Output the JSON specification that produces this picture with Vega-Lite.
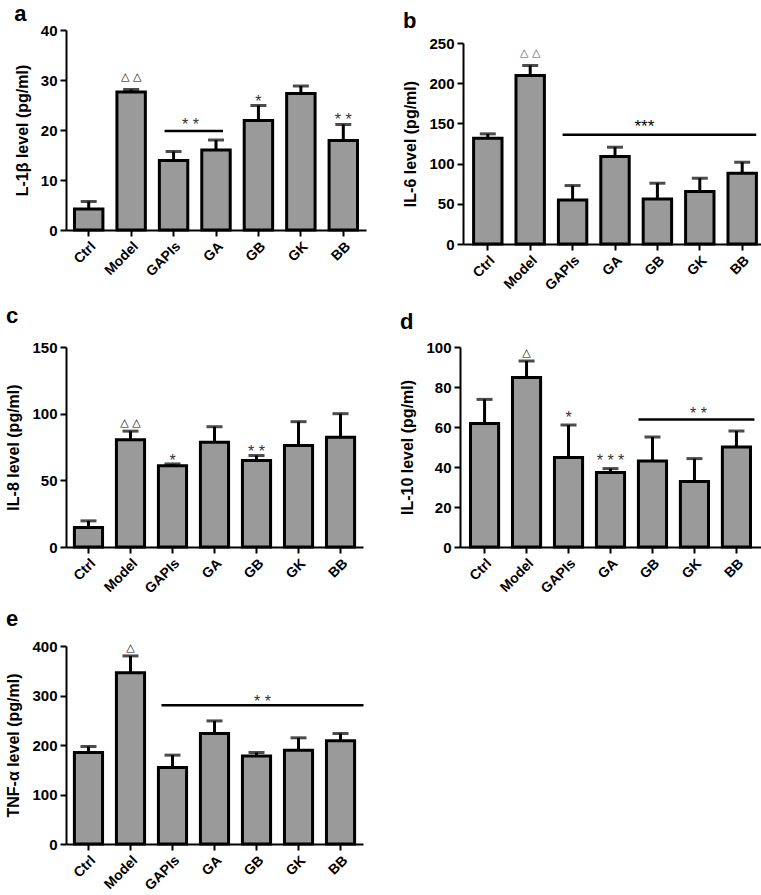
{
  "$schema": "https://vega.github.io/schema/vega-lite/v6.json",
  "background": "white",
  "padding": {"left": 5, "top": 3, "right": 0, "bottom": 0},
  "spacing": 12,
  "config": {
    "view": {"stroke": null},
    "font": "Liberation Sans",
    "axis": {"domainColor": "black", "domainWidth": 2, "tickColor": "black", "tickWidth": 2, "tickSize": 6, "labelColor": "black", "labelFont": "Liberation Sans", "labelFontWeight": "bold", "labelFontSize": 15, "labelPadding": 3, "titleColor": "black", "titleFont": "Liberation Sans", "titleFontWeight": "bold", "titleFontSize": 16, "grid": false},
    "axisX": {"labelAngle": -45, "labelFontSize": 14, "tickSize": 6},
    "axisY": {"titlePadding": 10},
    "title": {"anchor": "start", "font": "Liberation Sans", "fontWeight": "bold", "fontSize": 22, "color": "black", "frame": "bounds"}
  },
  "datasets": {
    "bars": [
      {"panel": "a", "group": "Ctrl", "value": 4.2, "upper": 5.7},
      {"panel": "a", "group": "Model", "value": 27.6, "upper": 28.1},
      {"panel": "a", "group": "GAPIs", "value": 13.9, "upper": 15.7},
      {"panel": "a", "group": "GA", "value": 16.0, "upper": 18.0},
      {"panel": "a", "group": "GB", "value": 21.9, "upper": 24.9},
      {"panel": "a", "group": "GK", "value": 27.3, "upper": 28.8},
      {"panel": "a", "group": "BB", "value": 17.9, "upper": 21.1},
      {"panel": "b", "group": "Ctrl", "value": 131.6, "upper": 137},
      {"panel": "b", "group": "Model", "value": 209.7, "upper": 222},
      {"panel": "b", "group": "GAPIs", "value": 54.8, "upper": 72.7},
      {"panel": "b", "group": "GA", "value": 108.8, "upper": 120.4},
      {"panel": "b", "group": "GB", "value": 56, "upper": 75.6},
      {"panel": "b", "group": "GK", "value": 65.2, "upper": 81.8},
      {"panel": "b", "group": "BB", "value": 88, "upper": 101.7},
      {"panel": "c", "group": "Ctrl", "value": 14.6, "upper": 19.6},
      {"panel": "c", "group": "Model", "value": 80.4, "upper": 86.9},
      {"panel": "c", "group": "GAPIs", "value": 61, "upper": 62.3},
      {"panel": "c", "group": "GA", "value": 78.6, "upper": 90.2},
      {"panel": "c", "group": "GB", "value": 64.8, "upper": 68.6},
      {"panel": "c", "group": "GK", "value": 76.1, "upper": 94},
      {"panel": "c", "group": "BB", "value": 82.4, "upper": 100},
      {"panel": "d", "group": "Ctrl", "value": 61.8, "upper": 73.8},
      {"panel": "d", "group": "Model", "value": 84.7, "upper": 93},
      {"panel": "d", "group": "GAPIs", "value": 44.7, "upper": 61},
      {"panel": "d", "group": "GA", "value": 37.2, "upper": 39.2},
      {"panel": "d", "group": "GB", "value": 43, "upper": 55},
      {"panel": "d", "group": "GK", "value": 32.8, "upper": 44.2},
      {"panel": "d", "group": "BB", "value": 50, "upper": 58},
      {"panel": "e", "group": "Ctrl", "value": 184.9, "upper": 197},
      {"panel": "e", "group": "Model", "value": 346, "upper": 380},
      {"panel": "e", "group": "GAPIs", "value": 154.6, "upper": 179.5},
      {"panel": "e", "group": "GA", "value": 223, "upper": 248.7},
      {"panel": "e", "group": "GB", "value": 178, "upper": 184.9},
      {"panel": "e", "group": "GK", "value": 189.6, "upper": 214.5},
      {"panel": "e", "group": "BB", "value": 208.4, "upper": 223.2}
    ],
    "ann": [
      {"panel": "a", "group": "Model", "value": 30.6, "label": "△ △", "kind": "tri"},
      {"panel": "a", "group": "GB", "value": 26.5, "label": "*", "kind": "star"},
      {"panel": "a", "group": "BB", "value": 22.9, "label": "* *", "kind": "star"},
      {"panel": "a", "group": "GAPIs", "value": 21.8, "label": "* *", "kind": "mid"},
      {"panel": "b", "group": "Model", "value": 237.5, "label": "△ △", "kind": "tri"},
      {"panel": "b", "group": "GB", "value": 151, "label": "***", "kind": "mid"},
      {"panel": "c", "group": "Model", "value": 93, "label": "△ △", "kind": "tri"},
      {"panel": "c", "group": "GAPIs", "value": 67.8, "label": "*", "kind": "star"},
      {"panel": "c", "group": "GB", "value": 74.6, "label": "* *", "kind": "star"},
      {"panel": "d", "group": "Model", "value": 97, "label": "△", "kind": "tri"},
      {"panel": "d", "group": "GAPIs", "value": 66.3, "label": "*", "kind": "star"},
      {"panel": "d", "group": "GA", "value": 45.2, "label": "* * *", "kind": "star"},
      {"panel": "d", "group": "GK", "value": 68.5, "label": "* *", "kind": "mid"},
      {"panel": "e", "group": "Model", "value": 396.6, "label": "△", "kind": "tri"},
      {"panel": "e", "group": "GB", "value": 295.8, "label": "* *", "kind": "mid"}
    ],
    "lines": [
      {"panel": "a", "group": "GAPIs", "group2": "GA", "value": 19.8},
      {"panel": "b", "group": "GAPIs", "group2": "BB", "value": 135.8},
      {"panel": "d", "group": "GB", "group2": "BB", "value": 63.8},
      {"panel": "e", "group": "GAPIs", "group2": "BB", "value": 280.3}
    ]
  },
  "vconcat": [
    {
      "spacing": 36,
      "hconcat": [
        {
          "title": {"text": "a", "offset": -3},
          "width": 300, "height": 200,
          "encoding": {
            "x": {"field": "group", "type": "nominal", "title": null, "scale": {"domain": ["Ctrl", "Model", "GAPIs", "GA", "GB", "GK", "BB"], "paddingInner": 0.33, "paddingOuter": 0.2}},
            "y": {"field": "value", "type": "quantitative", "title": "L-1β  level (pg/ml)", "scale": {"domain": [0, 40]}, "axis": {"values": [0, 10, 20, 30, 40]}}
          },
          "layer": [
            {"data": {"name": "bars"}, "transform": [{"filter": "datum.panel === 'a'"}], "mark": {"type": "bar", "fill": "#9a9a9a", "stroke": "black", "strokeWidth": 3}},
            {"data": {"name": "bars"}, "transform": [{"filter": "datum.panel === 'a'"}], "mark": {"type": "rule", "color": "black", "strokeWidth": 3}, "encoding": {"y2": {"field": "upper"}}},
            {"data": {"name": "bars"}, "transform": [{"filter": "datum.panel === 'a'"}], "mark": {"type": "tick", "color": "black", "thickness": 3, "size": 16}, "encoding": {"y": {"field": "upper", "type": "quantitative", "title": "L-1β  level (pg/ml)"}}},
            {"data": {"name": "ann"}, "transform": [{"filter": "datum.panel === 'a' && datum.kind === 'tri'"}], "mark": {"type": "text", "font": "DejaVu Sans", "fontSize": 11, "color": "black", "baseline": "middle"}, "encoding": {"text": {"field": "label"}}},
            {"data": {"name": "ann"}, "transform": [{"filter": "datum.panel === 'a' && datum.kind === 'star'"}], "mark": {"type": "text", "fontSize": 16, "color": "#333", "baseline": "middle", "dy": 4}, "encoding": {"text": {"field": "label"}}},
            {"data": {"name": "ann"}, "transform": [{"filter": "datum.panel === 'a' && datum.kind === 'mid'"}], "mark": {"type": "text", "fontSize": 16, "color": "#333", "baseline": "middle", "dy": 4, "dx": 17}, "encoding": {"text": {"field": "label"}}},
            {"data": {"name": "lines"}, "transform": [{"filter": "datum.panel === 'a'"}], "mark": {"type": "rule", "color": "black", "strokeWidth": 2.5, "xOffset": -9, "x2Offset": 7}, "encoding": {"x2": {"field": "group2"}}}
          ]
        },
        {
          "title": {"text": "b", "offset": -3},
          "width": 304, "height": 214,
          "encoding": {
            "x": {"field": "group", "type": "nominal", "title": null, "scale": {"domain": ["Ctrl", "Model", "GAPIs", "GA", "GB", "GK", "BB"], "paddingInner": 0.33, "paddingOuter": 0.25}},
            "y": {"field": "value", "type": "quantitative", "title": "IL-6 level (pg/ml)", "scale": {"domain": [0, 250], "range": [214, 13]}, "axis": {"values": [0, 50, 100, 150, 200, 250]}}
          },
          "layer": [
            {"data": {"name": "bars"}, "transform": [{"filter": "datum.panel === 'b'"}], "mark": {"type": "bar", "fill": "#9a9a9a", "stroke": "black", "strokeWidth": 3}},
            {"data": {"name": "bars"}, "transform": [{"filter": "datum.panel === 'b'"}], "mark": {"type": "rule", "color": "black", "strokeWidth": 3}, "encoding": {"y2": {"field": "upper"}}},
            {"data": {"name": "bars"}, "transform": [{"filter": "datum.panel === 'b'"}], "mark": {"type": "tick", "color": "black", "thickness": 3, "size": 16}, "encoding": {"y": {"field": "upper", "type": "quantitative", "title": "IL-6 level (pg/ml)"}}},
            {"data": {"name": "ann"}, "transform": [{"filter": "datum.panel === 'b' && datum.kind === 'tri'"}], "mark": {"type": "text", "font": "DejaVu Sans", "fontSize": 11, "color": "#555", "baseline": "middle"}, "encoding": {"text": {"field": "label"}}},
            {"data": {"name": "ann"}, "transform": [{"filter": "datum.panel === 'b' && datum.kind === 'mid'"}], "mark": {"type": "text", "fontSize": 17, "color": "black", "baseline": "middle", "dy": 4, "dx": -13}, "encoding": {"text": {"field": "label"}}},
            {"data": {"name": "lines"}, "transform": [{"filter": "datum.panel === 'b'"}], "mark": {"type": "rule", "color": "black", "strokeWidth": 2.5, "xOffset": -10, "x2Offset": 14}, "encoding": {"x2": {"field": "group2"}}}
          ]
        }
      ]
    },
    {
      "spacing": 36,
      "hconcat": [
        {
          "title": {"text": "c", "offset": 12},
          "width": 297, "height": 200,
          "encoding": {
            "x": {"field": "group", "type": "nominal", "title": null, "scale": {"domain": ["Ctrl", "Model", "GAPIs", "GA", "GB", "GK", "BB"], "paddingInner": 0.33, "paddingOuter": 0.2}},
            "y": {"field": "value", "type": "quantitative", "title": "IL-8 level (pg/ml)", "scale": {"domain": [0, 150]}, "axis": {"values": [0, 50, 100, 150]}}
          },
          "layer": [
            {"data": {"name": "bars"}, "transform": [{"filter": "datum.panel === 'c'"}], "mark": {"type": "bar", "fill": "#9a9a9a", "stroke": "black", "strokeWidth": 3}},
            {"data": {"name": "bars"}, "transform": [{"filter": "datum.panel === 'c'"}], "mark": {"type": "rule", "color": "black", "strokeWidth": 3}, "encoding": {"y2": {"field": "upper"}}},
            {"data": {"name": "bars"}, "transform": [{"filter": "datum.panel === 'c'"}], "mark": {"type": "tick", "color": "black", "thickness": 3, "size": 16}, "encoding": {"y": {"field": "upper", "type": "quantitative", "title": "IL-8 level (pg/ml)"}}},
            {"data": {"name": "ann"}, "transform": [{"filter": "datum.panel === 'c' && datum.kind === 'tri'"}], "mark": {"type": "text", "font": "DejaVu Sans", "fontSize": 11, "color": "black", "baseline": "middle"}, "encoding": {"text": {"field": "label"}}},
            {"data": {"name": "ann"}, "transform": [{"filter": "datum.panel === 'c' && datum.kind === 'star'"}], "mark": {"type": "text", "fontSize": 16, "color": "#333", "baseline": "middle", "dy": 4}, "encoding": {"text": {"field": "label"}}}
          ]
        },
        {
          "title": {"text": "d", "offset": 6},
          "width": 301, "height": 200,
          "encoding": {
            "x": {"field": "group", "type": "nominal", "title": null, "scale": {"domain": ["Ctrl", "Model", "GAPIs", "GA", "GB", "GK", "BB"], "paddingInner": 0.33, "paddingOuter": 0.25}},
            "y": {"field": "value", "type": "quantitative", "title": "IL-10 level (pg/ml)", "scale": {"domain": [0, 100]}, "axis": {"values": [0, 20, 40, 60, 80, 100]}}
          },
          "layer": [
            {"data": {"name": "bars"}, "transform": [{"filter": "datum.panel === 'd'"}], "mark": {"type": "bar", "fill": "#9a9a9a", "stroke": "black", "strokeWidth": 3}},
            {"data": {"name": "bars"}, "transform": [{"filter": "datum.panel === 'd'"}], "mark": {"type": "rule", "color": "black", "strokeWidth": 3}, "encoding": {"y2": {"field": "upper"}}},
            {"data": {"name": "bars"}, "transform": [{"filter": "datum.panel === 'd'"}], "mark": {"type": "tick", "color": "black", "thickness": 3, "size": 16}, "encoding": {"y": {"field": "upper", "type": "quantitative", "title": "IL-10 level (pg/ml)"}}},
            {"data": {"name": "ann"}, "transform": [{"filter": "datum.panel === 'd' && datum.kind === 'tri'"}], "mark": {"type": "text", "font": "DejaVu Sans", "fontSize": 11, "color": "black", "baseline": "middle"}, "encoding": {"text": {"field": "label"}}},
            {"data": {"name": "ann"}, "transform": [{"filter": "datum.panel === 'd' && datum.kind === 'star'"}], "mark": {"type": "text", "fontSize": 16, "color": "#333", "baseline": "middle", "dy": 4}, "encoding": {"text": {"field": "label"}}},
            {"data": {"name": "ann"}, "transform": [{"filter": "datum.panel === 'd' && datum.kind === 'mid'"}], "mark": {"type": "text", "fontSize": 16, "color": "#333", "baseline": "middle", "dy": 4, "dx": 4}, "encoding": {"text": {"field": "label"}}},
            {"data": {"name": "lines"}, "transform": [{"filter": "datum.panel === 'd'"}], "mark": {"type": "rule", "color": "black", "strokeWidth": 2.5, "xOffset": -14, "x2Offset": 18}, "encoding": {"x2": {"field": "group2"}}}
          ]
        }
      ]
    },
    {
      "title": {"text": "e", "offset": 8},
      "width": 297, "height": 198,
      "encoding": {
        "x": {"field": "group", "type": "nominal", "title": null, "scale": {"domain": ["Ctrl", "Model", "GAPIs", "GA", "GB", "GK", "BB"], "paddingInner": 0.33, "paddingOuter": 0.2}},
        "y": {"field": "value", "type": "quantitative", "title": "TNF-α level (pg/ml)", "scale": {"domain": [0, 400]}, "axis": {"values": [0, 100, 200, 300, 400]}}
      },
      "layer": [
        {"data": {"name": "bars"}, "transform": [{"filter": "datum.panel === 'e'"}], "mark": {"type": "bar", "fill": "#9a9a9a", "stroke": "black", "strokeWidth": 3}},
        {"data": {"name": "bars"}, "transform": [{"filter": "datum.panel === 'e'"}], "mark": {"type": "rule", "color": "black", "strokeWidth": 3}, "encoding": {"y2": {"field": "upper"}}},
        {"data": {"name": "bars"}, "transform": [{"filter": "datum.panel === 'e'"}], "mark": {"type": "tick", "color": "black", "thickness": 3, "size": 16}, "encoding": {"y": {"field": "upper", "type": "quantitative", "title": "TNF-α level (pg/ml)"}}},
        {"data": {"name": "ann"}, "transform": [{"filter": "datum.panel === 'e' && datum.kind === 'tri'"}], "mark": {"type": "text", "font": "DejaVu Sans", "fontSize": 11, "color": "black", "baseline": "middle"}, "encoding": {"text": {"field": "label"}}},
        {"data": {"name": "ann"}, "transform": [{"filter": "datum.panel === 'e' && datum.kind === 'mid'"}], "mark": {"type": "text", "fontSize": 16, "color": "#333", "baseline": "middle", "dy": 4, "dx": 6}, "encoding": {"text": {"field": "label"}}},
        {"data": {"name": "lines"}, "transform": [{"filter": "datum.panel === 'e'"}], "mark": {"type": "rule", "color": "black", "strokeWidth": 2.5, "xOffset": -11, "x2Offset": 23}, "encoding": {"x2": {"field": "group2"}}}
      ]
    }
  ]
}
